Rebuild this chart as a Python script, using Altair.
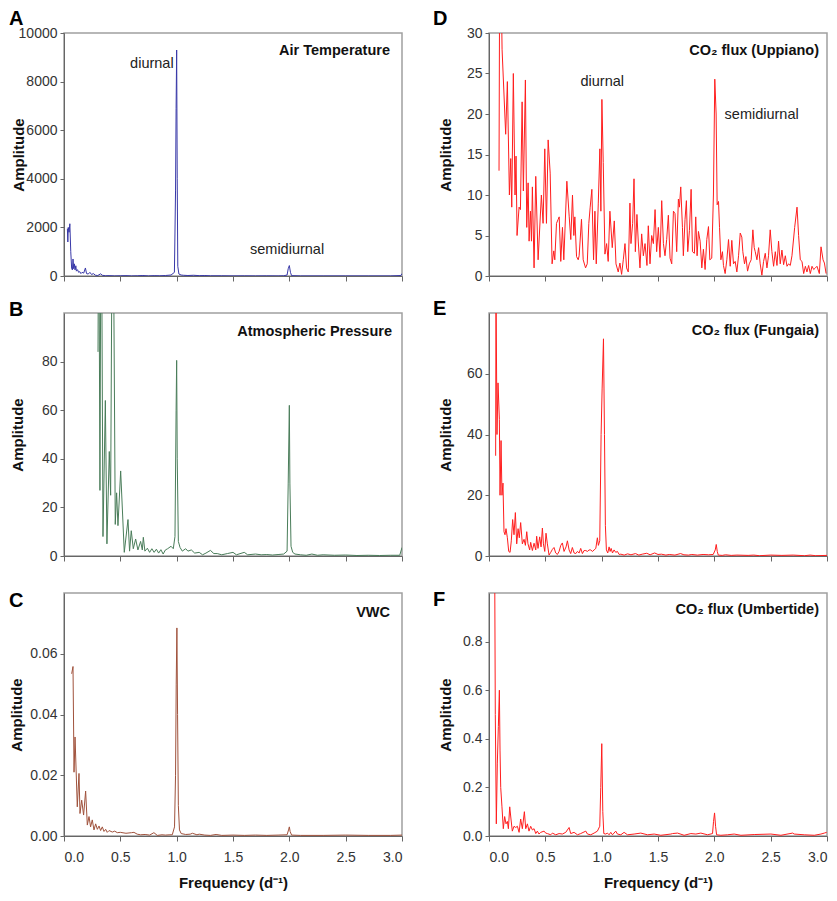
import altair as alt
import pandas as pd

FONT = "Liberation Sans"
XTICKS = [0, 0.5, 1.0, 1.5, 2.0, 2.5, 3.0]

# (frequency d^-1, amplitude)
A_SPECTRUM = [(0.030,1950),(0.034,1400),(0.038,2000),(0.045,1800),(0.052,2150),(0.060,1000),(0.068,300),(0.075,250),(0.080,700),(0.086,300),(0.092,500),(0.098,250),(0.105,420),(0.110,200),(0.120,260),(0.130,150),(0.140,180),(0.150,100),(0.160,150),(0.175,120),(0.190,330),(0.200,100),(0.215,80),(0.230,150),(0.245,60),(0.260,100),(0.280,30),(0.300,20),(0.325,90),(0.340,30),(0.370,10),(0.400,15),(0.450,5),(0.500,10),(0.550,15),(0.600,5),(0.650,10),(0.700,20),(0.750,5),(0.800,15),(0.850,10),(0.900,20),(0.950,40),(0.980,150),(0.990,3500),(0.995,6900),(1.000,9300),(1.005,4000),(1.010,400),(1.020,80),(1.040,40),(1.060,30),(1.100,20),(1.150,30),(1.200,15),(1.250,20),(1.300,10),(1.400,10),(1.500,5),(1.600,8),(1.700,5),(1.800,8),(1.900,5),(1.950,10),(1.980,40),(1.990,300),(2.000,430),(2.010,150),(2.020,15),(2.100,5),(2.300,5),(2.500,5),(2.700,5),(2.900,5),(2.990,20),(3.000,100)]

B_SPECTRUM = [(0.302,84),(0.308,160),(0.319,27),(0.330,170),(0.346,8),(0.367,64),(0.381,5),(0.402,43),(0.414,25),(0.432,180),(0.455,13),(0.467,26),(0.479,12.5),(0.503,35),(0.535,1.5),(0.568,15),(0.582,2),(0.597,10.4),(0.615,3),(0.636,7),(0.656,2.5),(0.680,6),(0.695,2.5),(0.704,7.7),(0.718,2),(0.740,3.2),(0.760,1.5),(0.780,3),(0.800,1.5),(0.820,2.8),(0.840,1.2),(0.860,2.6),(0.880,0.8),(0.900,2.5),(0.920,3),(0.950,4),(0.970,3),(0.985,8),(0.995,60),(1.000,80.5),(1.005,40),(1.015,6),(1.030,3.5),(1.050,2),(1.080,3),(1.100,2),(1.130,2.5),(1.160,1.2),(1.200,1.5),(1.230,0.5),(1.260,1.2),(1.300,2.3),(1.330,1),(1.360,1),(1.400,0.5),(1.450,1),(1.500,1.5),(1.530,0.5),(1.600,1.5),(1.630,0.5),(1.700,0.8),(1.750,0.5),(1.800,0.6),(1.850,0.4),(1.900,0.6),(1.950,0.8),(1.980,2),(1.990,30),(2.000,62),(2.005,30),(2.015,4),(2.030,1.5),(2.050,0.8),(2.100,0.5),(2.150,0.3),(2.200,0.8),(2.250,0.3),(2.300,0.5),(2.400,0.3),(2.500,0.4),(2.600,0.2),(2.700,0.3),(2.800,0.2),(2.900,0.3),(2.980,0.3),(3.000,3.5)]

C_SPECTRUM = [(0.068,0.0534),(0.080,0.0558),(0.089,0.021),(0.098,0.0326),(0.118,0.0096),(0.133,0.0206),(0.142,0.0074),(0.157,0.0118),(0.174,0.0069),(0.192,0.0148),(0.207,0.0036),(0.222,0.0064),(0.236,0.003),(0.251,0.0053),(0.266,0.002),(0.281,0.004),(0.296,0.0022),(0.311,0.0033),(0.325,0.0018),(0.340,0.003),(0.355,0.0015),(0.370,0.0022),(0.384,0.0012),(0.400,0.0018),(0.429,0.0013),(0.450,0.0016),(0.473,0.0011),(0.500,0.0012),(0.550,0.0009),(0.600,0.0011),(0.621,0.0012),(0.650,0.0006),(0.680,0.0004),(0.720,0.0005),(0.760,0.0003),(0.798,0.0011),(0.828,0.0002),(0.870,0.0004),(0.900,0.0003),(0.940,0.0004),(0.961,0.0004),(0.981,0.003),(0.990,0.02),(0.996,0.05),(1.002,0.0685),(1.008,0.04),(1.015,0.01),(1.025,0.002),(1.040,0.0008),(1.080,0.0005),(1.120,0.0006),(1.140,0.0009),(1.180,0.0004),(1.200,0.0006),(1.250,0.0003),(1.300,0.0002),(1.350,0.0005),(1.400,0.0002),(1.500,0.0003),(1.600,0.0002),(1.700,0.0003),(1.800,0.0002),(1.900,0.0003),(1.980,0.0004),(1.993,0.002),(2.000,0.003),(2.007,0.0015),(2.020,0.0003),(2.100,0.0002),(2.300,0.0002),(2.500,0.0003),(2.700,0.0002),(2.900,0.0002),(3.000,0.0003)]

D_SPECTRUM = [(0.089,13),(0.095,40),(0.104,40),(0.116,28),(0.148,17.5),(0.163,24),(0.181,10),(0.193,14.5),(0.202,8.5),(0.216,25),(0.231,10),(0.240,14.8),(0.249,5),(0.267,8.5),(0.279,8.2),(0.294,21.5),(0.305,10.5),(0.323,24.2),(0.335,6),(0.347,11.5),(0.356,4.3),(0.368,8),(0.377,4.3),(0.385,11),(0.400,1),(0.415,12.3),(0.436,2),(0.465,10),(0.480,6.5),(0.495,15.7),(0.510,6.5),(0.525,16.8),(0.543,12.7),(0.560,1.5),(0.575,3.1),(0.584,2),(0.599,6.5),(0.614,7),(0.623,7.3),(0.637,1.8),(0.652,6),(0.664,2),(0.691,11.7),(0.712,7.3),(0.726,4.5),(0.741,10),(0.753,5),(0.762,7.3),(0.777,2.4),(0.792,2),(0.800,2.5),(0.821,7),(0.836,2),(0.857,1),(0.872,1.5),(0.886,6.5),(0.898,8.5),(0.913,10.7),(0.928,2),(0.940,8),(0.952,1.5),(0.970,9),(0.984,15.7),(0.993,8),(1.002,21.8),(1.014,14),(1.029,2.7),(1.044,4),(1.058,1.8),(1.073,8),(1.094,3.5),(1.112,6.8),(1.127,1.5),(1.147,0.5),(1.162,1.6),(1.177,0.2),(1.192,2),(1.207,4),(1.221,1),(1.236,0.5),(1.251,9),(1.260,4),(1.275,6.5),(1.287,12),(1.299,3),(1.313,7.6),(1.325,4.2),(1.340,1),(1.355,5.2),(1.370,2.5),(1.385,4),(1.402,1.3),(1.414,6.2),(1.429,1.5),(1.444,5),(1.459,4),(1.474,8.2),(1.488,3),(1.503,6),(1.518,2.3),(1.533,9.3),(1.548,4),(1.562,2.5),(1.577,4.5),(1.592,7.5),(1.607,2.2),(1.622,1.5),(1.637,8),(1.651,7.7),(1.666,3),(1.681,9.5),(1.690,8.5),(1.702,11),(1.717,6),(1.725,2.5),(1.740,7),(1.752,9.3),(1.764,3),(1.779,5.6),(1.794,10.7),(1.806,3),(1.823,2.8),(1.835,7.3),(1.847,2.5),(1.859,5.5),(1.874,4.3),(1.889,1),(1.903,3.3),(1.918,0.8),(1.933,4.5),(1.948,6.1),(1.960,2),(1.977,2.2),(1.992,10),(2.004,24.3),(2.016,20),(2.025,8.8),(2.037,9.2),(2.046,6),(2.058,2),(2.072,3),(2.081,1.3),(2.096,0.3),(2.111,2),(2.126,4.5),(2.141,1.2),(2.155,4.4),(2.170,1.5),(2.185,1.8),(2.200,0.5),(2.215,2.5),(2.230,5.3),(2.244,4.8),(2.253,3),(2.268,1.5),(2.280,2.4),(2.295,0.6),(2.310,1.5),(2.327,2),(2.342,5.7),(2.354,3.5),(2.363,3),(2.378,2),(2.393,3.5),(2.407,1.5),(2.422,0.1),(2.437,1.8),(2.452,2.8),(2.467,1),(2.481,2.5),(2.496,5.7),(2.511,3),(2.526,1.2),(2.541,3),(2.556,1.3),(2.570,4.3),(2.585,1.5),(2.600,3.2),(2.615,1.4),(2.630,2.5),(2.645,1.2),(2.659,1.5),(2.674,1.3),(2.689,2.5),(2.713,6),(2.734,8.5),(2.748,5),(2.763,2),(2.778,1.8),(2.793,0.3),(2.808,1.2),(2.822,0.5),(2.837,1.3),(2.852,0.3),(2.867,1.2),(2.882,0.8),(2.897,1),(2.911,1.2),(2.932,0.3),(2.947,3.6),(2.965,2),(2.977,1.6),(2.992,0.3)]

E_SPECTRUM = [(0.059,33),(0.062,90),(0.071,40),(0.080,57),(0.092,45),(0.098,20),(0.107,38),(0.115,20),(0.124,24),(0.133,8),(0.142,7),(0.151,9),(0.163,6),(0.175,1.5),(0.187,1.2),(0.198,5),(0.210,12),(0.222,7),(0.234,14.3),(0.246,4),(0.258,9),(0.269,6),(0.281,11),(0.296,4),(0.311,5.5),(0.323,3.5),(0.335,8),(0.346,4),(0.361,2),(0.370,4.5),(0.385,1.8),(0.400,4.2),(0.415,2),(0.423,6.5),(0.435,2.5),(0.450,6.3),(0.462,3),(0.474,9.2),(0.483,4),(0.495,1.5),(0.506,7.5),(0.518,4),(0.533,0.3),(0.548,1.2),(0.563,2.2),(0.577,2.8),(0.592,1),(0.607,0.5),(0.622,1.5),(0.637,3.5),(0.651,4.3),(0.666,1.5),(0.684,3),(0.696,5),(0.711,2),(0.725,0.8),(0.740,2.8),(0.755,1),(0.770,0.8),(0.785,1.5),(0.800,1),(0.814,2.5),(0.829,0.8),(0.844,1.8),(0.859,1.8),(0.874,1.5),(0.888,2),(0.903,2),(0.918,1.5),(0.933,2),(0.948,2.5),(0.962,6),(0.971,3.5),(0.983,5),(0.995,40),(1.004,55),(1.016,71.5),(1.025,40),(1.033,10),(1.042,2),(1.054,1),(1.066,3),(1.075,1.5),(1.084,2.5),(1.096,1),(1.110,2),(1.125,1.2),(1.140,1.5),(1.155,0.5),(1.170,0.6),(1.200,0.3),(1.230,0.7),(1.260,0.4),(1.300,0.8),(1.330,0.3),(1.360,0.6),(1.400,0.9),(1.430,0.4),(1.470,1.0),(1.500,0.5),(1.530,0.6),(1.570,0.3),(1.600,0.5),(1.650,0.3),(1.700,0.8),(1.730,0.4),(1.770,0.3),(1.800,0.5),(1.850,0.3),(1.900,0.5),(1.950,0.4),(1.990,0.5),(2.008,2),(2.017,3.8),(2.026,1.5),(2.035,0.3),(2.070,0.2),(2.100,0.4),(2.150,0.2),(2.200,0.3),(2.300,0.2),(2.350,0.3),(2.400,0.1),(2.500,0.3),(2.600,0.2),(2.700,0.3),(2.800,0.1),(2.850,0.3),(2.900,0.1),(3.000,0.2)]

F_SPECTRUM = [(0.047,1.5),(0.056,0.5),(0.065,0.05),(0.074,0.3),(0.083,0.45),(0.092,0.6),(0.098,0.35),(0.104,0.2),(0.115,0.12),(0.127,0.03),(0.139,0.08),(0.151,0.05),(0.163,0.06),(0.172,0.03),(0.184,0.12),(0.195,0.07),(0.207,0.02),(0.222,0.04),(0.237,0.035),(0.252,0.04),(0.267,0.015),(0.281,0.07),(0.296,0.03),(0.314,0.1),(0.326,0.03),(0.341,0.05),(0.355,0.02),(0.370,0.04),(0.385,0.025),(0.400,0.03),(0.415,0.01),(0.429,0.02),(0.444,0.008),(0.459,0.015),(0.489,0.02),(0.503,0.012),(0.518,0.01),(0.548,0.005),(0.563,0.012),(0.592,0.005),(0.622,0.01),(0.651,0.008),(0.681,0.015),(0.711,0.035),(0.725,0.01),(0.755,0.015),(0.785,0.005),(0.814,0.01),(0.859,0.02),(0.874,0.008),(0.903,0.005),(0.933,0.012),(0.962,0.02),(0.983,0.04),(0.992,0.2),(1.001,0.38),(1.010,0.1),(1.019,0.01),(1.036,0.008),(1.051,0.012),(1.066,0.005),(1.081,0.015),(1.096,0.005),(1.125,0.02),(1.140,0.008),(1.170,0.005),(1.199,0.015),(1.229,0.005),(1.288,0.008),(1.347,0.012),(1.407,0.005),(1.466,0.008),(1.525,0.003),(1.614,0.008),(1.629,0.01),(1.673,0.012),(1.732,0.003),(1.792,0.01),(1.836,0.008),(1.880,0.012),(1.940,0.005),(1.984,0.01),(1.993,0.06),(2.002,0.095),(2.011,0.04),(2.020,0.005),(2.058,0.003),(2.117,0.005),(2.176,0.008),(2.236,0.003),(2.354,0.006),(2.502,0.008),(2.591,0.003),(2.695,0.012),(2.709,0.008),(2.798,0.005),(2.887,0.003),(2.946,0.008),(2.976,0.012),(2.997,0.015)]

A_NOTES = [("diurnal", 0.973, 8730, "right"), ("semidiurnal", 1.98, 1070, "center")]
D_NOTES = [("diurnal", 1.005, 24.0, "center"), ("semidiurnal", 2.42, 19.9, "center")]

W, H = 338, 243
TITLE_SIZE = 15


def panel(pts, color, ymax, yvals, yfmt, letter, letter_x, letter_y,
          heading, head_r, head_y, title_x, bottom, notes=None):
    df = pd.DataFrame(pts, columns=["f", "a"])
    if bottom:
        xaxis = alt.Axis(values=XTICKS, format=".1f", title="Frequency (d⁻¹)",
                         titleFontSize=TITLE_SIZE, titleFontWeight="bold")
    else:
        xaxis = alt.Axis(values=XTICKS, labels=False, title=None)
    x = alt.X("f:Q", scale=alt.Scale(domain=[0, 3], nice=False), axis=xaxis)
    y = alt.Y("a:Q", scale=alt.Scale(domain=[0, ymax], nice=False),
              axis=alt.Axis(values=yvals, format=yfmt, title="Amplitude",
                            titleFontSize=TITLE_SIZE, titleFontWeight="bold",
                            titleX=title_x, titleBaseline="bottom",
                            titleAngle=270, titleAlign="center"))
    line = alt.Chart(df).mark_line(color=color, strokeWidth=1, clip=True).encode(x=x, y=y)
    layers = [line]
    head = alt.Chart(pd.DataFrame({"t": [heading]})).mark_text(
        align="right", baseline="middle", fontSize=14.5, fontWeight="bold",
        font=FONT, color="#111").encode(
        text="t:N", x=alt.value(W - head_r), y=alt.value(head_y))
    lab = alt.Chart(pd.DataFrame({"t": [letter]})).mark_text(
        align="left", baseline="alphabetic", fontSize=20, fontWeight="bold",
        font=FONT, color="#000").encode(
        text="t:N", x=alt.value(letter_x), y=alt.value(letter_y))
    layers += [head, lab]
    if notes:
        for txt, fx, ay, al in notes:
            nd = pd.DataFrame({"t": [txt], "f": [fx], "a": [ay]})
            layers.append(alt.Chart(nd).mark_text(
                align=al, baseline="middle", fontSize=14.5, font=FONT,
                color="#222").encode(text="t:N", x="f:Q", y="a:Q"))
    return alt.layer(*layers).properties(width=W, height=H)


pA = panel(A_SPECTRUM, "#3838a8", 10000, [0, 2000, 4000, 6000, 8000, 10000], "d",
           "A", -55, -8, "Air Temperature", 12, 18, -38, False, A_NOTES)
pD = panel(D_SPECTRUM, "#ff1e1e", 30, [0, 5, 10, 15, 20, 25, 30], "d",
           "D", -56, -8, "CO₂ flux (Uppiano)", 8, 18, -36, False, D_NOTES)
pB = panel(B_SPECTRUM, "#4a7d5a", 100, [0, 20, 40, 60, 80], "d",
           "B", -55, 3, "Atmospheric Pressure", 10, 19, -39, False)
pE = panel(E_SPECTRUM, "#ff1e1e", 80, [0, 20, 40, 60], "d",
           "E", -56, 2, "CO₂ flux (Fungaia)", 8, 18, -36, False)
pC = panel(C_SPECTRUM, "#a0523c", 0.08, [0, 0.02, 0.04, 0.06], ".2f",
           "C", -55, 14, "VWC", 12, 20, -40, True)
pF = panel(F_SPECTRUM, "#ff1e1e", 1.0, [0, 0.2, 0.4, 0.6, 0.8], ".1f",
           "F", -56, 13, "CO₂ flux (Umbertide)", 8, 17, -36, True)

chart = alt.concat(pA, pD, pB, pE, pC, pF, columns=2,
                   spacing={"row": 37, "column": 87}, bounds="flush").properties(
    padding=0
).configure_view(
    stroke="#a0a0a0", strokeWidth=1.5
).configure_axis(
    grid=False, labelFont=FONT, titleFont=FONT, labelFontSize=14,
    labelColor="#333", titleFontSize=TITLE_SIZE, titleFontWeight="bold",
    titleColor="#111", domainColor="#666", tickColor="#666", domainWidth=1
).configure_axisX(
    tickSize=5, labelPadding=9, titlePadding=11
).configure_axisY(
    tickSize=4, labelPadding=3
)

chart.save("out.html", embed_options={"renderer": "svg", "actions": False})
